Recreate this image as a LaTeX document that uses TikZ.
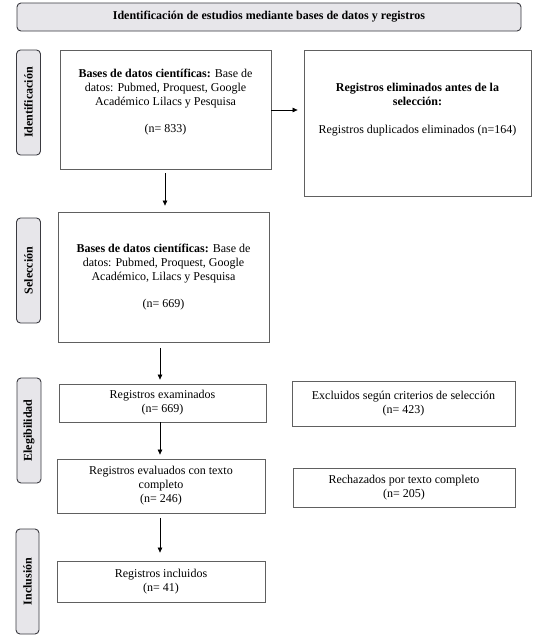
\documentclass[tikz,border=0pt]{standalone}
\usepackage{fontspec}
\setmainfont{Liberation Serif}
\usetikzlibrary{arrows.meta}
\definecolor{lblfill}{HTML}{E7E6EA}
\definecolor{lbldraw}{HTML}{3A3A40}
\definecolor{boxdraw}{HTML}{606060}
\tikzset{
  hdr/.style={draw=lbldraw, fill=lblfill, rounded corners=4pt, line width=0.9pt, inner sep=0pt, font=\fontsize{12}{14}\selectfont\bfseries},
  phase/.style={draw=lbldraw, fill=lblfill, rounded corners=4pt, line width=0.9pt, rotate=90, inner sep=0pt, font=\fontsize{12}{14}\selectfont\bfseries},
  stepbox/.style={draw=boxdraw, line width=0.8pt, align=center, inner sep=0pt},
  txt/.style={align=center, inner sep=0pt},
  arr/.style={-{Triangle[length=5pt,width=4.5pt]}, line width=0.7pt, black},
}
\begin{document}
\begin{tikzpicture}[x=1pt, y=-1pt, font=\fontsize{12}{14}\selectfont]
\useasboundingbox (0,0) rectangle (534,638);
\fill[white] (0,0) rectangle (534,638);

\node[hdr, minimum width=504pt, minimum height=28pt] (title) at (269,17)
  {Identificación de estudios mediante bases de datos y registros};

\node[phase, minimum width=105pt, minimum height=24pt] (pid) at (28.5,102.5) {Identificación};
\node[phase, minimum width=105pt, minimum height=24pt] (psel) at (28.5,270.5) {Selección};
\node[phase, minimum width=105pt, minimum height=24pt] (pele) at (29,430.5) {Elegibilidad};
\node[phase, minimum width=105pt, minimum height=23pt] (pinc) at (27.5,581.5) {Inclusión};

\node[stepbox, minimum width=211pt, minimum height=119pt] (b1) at (165.5,109.5) {};
\node[txt] (b1t) at ([yshift=7pt]b1.center)
  {\textbf{Bases de datos científicas:} Base de\\ datos: Pubmed, Proquest, Google\\ Académico Lilacs y Pesquisa\\[13pt] (n= 833)};

\node[stepbox, minimum width=227pt, minimum height=146pt] (r1) at (417.5,123) {};
\node[txt] (r1t) at ([yshift=13pt]r1.center)
  {\textbf{Registros eliminados antes de la}\\ \textbf{selección:}\\[14pt] Registros duplicados eliminados (n=164)};

\node[stepbox, minimum width=211pt, minimum height=130pt] (b2) at (163.5,277)
  {\textbf{Bases de datos científicas:} Base de\\ datos: Pubmed, Proquest, Google\\ Académico, Lilacs y Pesquisa\\[13pt] (n= 669)};

\node[stepbox, minimum width=207pt, minimum height=38pt] (b3) at (162.5,403)
  {Registros examinados\\ (n= 669)};
\node[stepbox, minimum width=208pt, minimum height=54pt] (b4) at (161,486)
  {Registros evaluados con texto\\ completo\\ (n= 246)};
\node[stepbox, minimum width=208pt, minimum height=41pt] (b5) at (161,581.5)
  {Registros incluidos\\ (n= 41)};

\node[stepbox, minimum width=223pt, minimum height=45pt] (ex) at (403.5,403.5)
  {Excluidos según criterios de selección\\ (n= 423)};
\node[stepbox, minimum width=222pt, minimum height=39pt] (re) at (404,487.5)
  {Rechazados por texto completo\\ (n= 205)};

\draw[arr, shorten >=6pt] ([yshift=-0.5pt]b1.east) -- ([yshift=-0.5pt]r1.west |- b1.east);
\draw[arr, shorten <=4pt, shorten >=6pt] ([xshift=-0.5pt]b1.south) -- ([xshift=1.5pt]b2.north);
\draw[arr, shorten <=6pt, shorten >=4pt] ([xshift=-3.5pt]b2.south) -- ([xshift=-2.5pt]b3.north);
\draw[arr, shorten >=4pt] ([xshift=-2.5pt]b3.south) -- ([xshift=-1pt]b4.north);
\draw[arr, shorten <=5pt, shorten >=8pt] ([xshift=-1pt]b4.south) -- ([xshift=-1pt]b5.north);
\end{tikzpicture}
\end{document}
